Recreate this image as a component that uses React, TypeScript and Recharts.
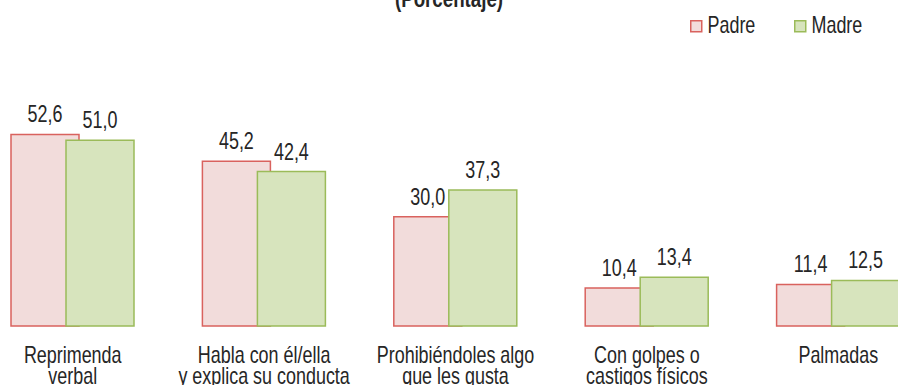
import { BarChart, Bar, XAxis, YAxis, LabelList } from "recharts";

const categories = [
  "Reprimenda\nverbal",
  "Habla con él/ella\ny explica su conducta",
  "Prohibiéndoles algo\nque les gusta",
  "Con golpes o\ncastigos físicos",
  "Palmadas",
];
const padre = [52.6, 45.2, 30.0, 10.4, 11.4];
const madre = [51.0, 42.4, 37.3, 13.4, 12.5];
const seriesNames = ["Padre", "Madre"];

const data = categories.map((name, i) => ({ name, padre: padre[i], madre: madre[i] }));

// no narrow face installed: squeeze Liberation Sans horizontally instead
const FONT = "'Liberation Sans', Arial, sans-serif";
const SQUEEZE = 0.78;
const TEXT = "#262626";
const PADRE_FILL = "#f2dcdb";
const PADRE_STROKE = "#d9625e";
const MADRE_FILL = "#d7e4bd";
const MADRE_STROKE = "#9bbb59";

const fmt = (v: number) => v.toFixed(1).replace(".", ",");

const NarrowText = ({ x, y, size, children, weight }: any) => (
  <text
    transform={`translate(${x},${y}) scale(${SQUEEZE},1)`}
    x={0}
    y={0}
    textAnchor="middle"
    fill={TEXT}
    fontSize={size}
    fontWeight={weight}
    fontFamily={FONT}
  >
    {children}
  </text>
);

const CategoryTick = (props: any) => {
  const { x, y, payload } = props;
  const lines = String(payload.value).split("\n");
  return (
    <g>
      {lines.map((l, i) => (
        <NarrowText key={i} x={x} y={y + 37 + i * 21} size={23}>
          {l}
        </NarrowText>
      ))}
    </g>
  );
};

const ValueLabel = (props: any) => {
  const { x, y, width, value } = props;
  return (
    <NarrowText x={x + width / 2} y={y - 12} size={23}>
      {fmt(Number(value))}
    </NarrowText>
  );
};

const legendItems = [
  { label: seriesNames[0], fill: PADRE_FILL, stroke: PADRE_STROKE, x: 690 },
  { label: seriesNames[1], fill: MADRE_FILL, stroke: MADRE_STROKE, x: 794 },
];

export default function App() {
  return (
    <div
      style={{
        position: "fixed",
        left: 0,
        top: 0,
        width: 898,
        height: 385,
        overflow: "hidden",
        background: "#fff",
      }}
    >
      <div style={{ position: "absolute", left: -23, top: 0 }}>
        <BarChart
          width={957}
          height={400}
          data={data}
          margin={{ top: 71, right: 0, bottom: 0, left: 0 }}
          barSize={68}
          barGap={-13}
        >
          <XAxis
            dataKey="name"
            axisLine={false}
            tickLine={false}
            tickSize={0}
            tickMargin={0}
            height={74}
            interval={0}
            tick={<CategoryTick />}
          />
          <YAxis hide domain={[0, 70]} />
          <Bar
            dataKey="padre"
            name={seriesNames[0]}
            fill={PADRE_FILL}
            stroke={PADRE_STROKE}
            strokeWidth={1.5}
            isAnimationActive={false}
          >
            <LabelList dataKey="padre" content={<ValueLabel />} />
          </Bar>
          <Bar
            dataKey="madre"
            name={seriesNames[1]}
            fill={MADRE_FILL}
            stroke={MADRE_STROKE}
            strokeWidth={1.5}
            isAnimationActive={false}
          >
            <LabelList dataKey="madre" content={<ValueLabel />} />
          </Bar>
        </BarChart>
      </div>
      <svg
        width={898}
        height={60}
        style={{ position: "absolute", left: 0, top: 0, overflow: "visible" }}
      >
        <NarrowText x={449} y={7} size={24} weight="bold">
          (Porcentaje)
        </NarrowText>
        {legendItems.map((it) => (
          <g key={it.label}>
            <rect
              x={it.x + 0.75}
              y={20.75}
              width={11}
              height={11}
              fill={it.fill}
              stroke={it.stroke}
              strokeWidth={1.5}
            />
            <text
              transform={`translate(${it.x + 17.5},33) scale(${SQUEEZE},1)`}
              x={0}
              y={0}
              fill={TEXT}
              fontSize={23}
              fontFamily={FONT}
            >
              {it.label}
            </text>
          </g>
        ))}
      </svg>
    </div>
  );
}
